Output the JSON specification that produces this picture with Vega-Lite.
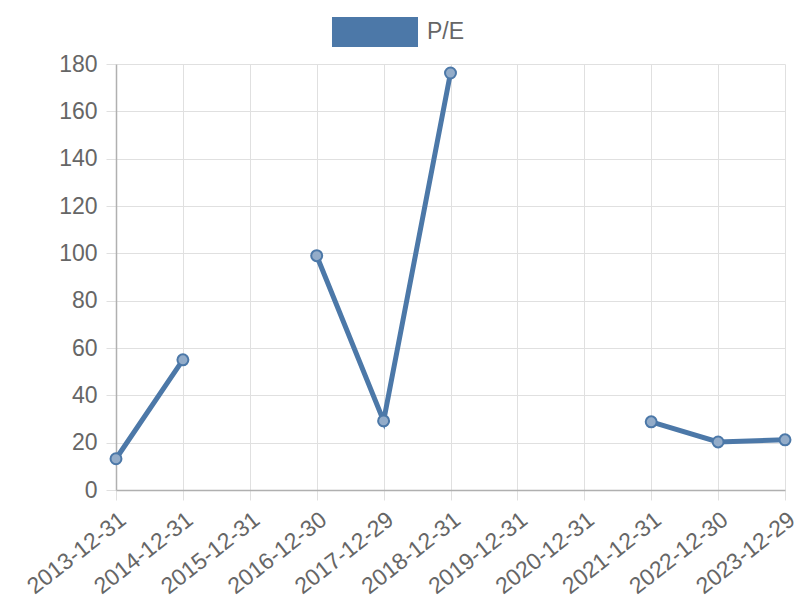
{
  "$schema": "https://vega.github.io/schema/vega-lite/v6.json",
  "width": 669,
  "height": 426,
  "autosize": {"type": "none"},
  "padding": {"left": 116, "top": 64, "right": 15, "bottom": 110},
  "background": "white",
  "config": {
    "view": {"stroke": null},
    "font": "Liberation Sans"
  },
  "data": {
    "values": [
      {"date": "2013-12-31", "pe": 13.2},
      {"date": "2014-12-31", "pe": 55},
      {"date": "2015-12-31", "pe": null},
      {"date": "2016-12-30", "pe": 99},
      {"date": "2017-12-29", "pe": 29.2},
      {"date": "2018-12-31", "pe": 176.2},
      {"date": "2019-12-31", "pe": null},
      {"date": "2020-12-31", "pe": null},
      {"date": "2021-12-31", "pe": 28.8},
      {"date": "2022-12-30", "pe": 20.3},
      {"date": "2023-12-29", "pe": 21.2}
    ]
  },
  "encoding": {
    "x": {
      "field": "date",
      "type": "ordinal",
      "sort": null,
      "scale": {
        "type": "point",
        "padding": 0,
        "domain": ["2013-12-31","2014-12-31","2015-12-31","2016-12-30","2017-12-29","2018-12-31","2019-12-31","2020-12-31","2021-12-31","2022-12-30","2023-12-29"]
      },
      "axis": {
        "title": null,
        "labelAngle": -38,
        "labelAlign": "right",
        "labelBaseline": "top",
        "labelFontSize": 23,
        "labelColor": "#666666",
        "labelPadding": 8,
        "labelOverlap": false,
        "tickSize": 10,
        "tickColor": "#e0e0e0",
        "grid": true,
        "gridColor": "#e0e0e0",
        "domainColor": "#b0b0b0",
        "domainWidth": 1.5
      }
    },
    "y": {
      "field": "pe",
      "type": "quantitative",
      "scale": {"domain": [0, 180], "nice": false},
      "axis": {
        "title": null,
        "values": [0, 20, 40, 60, 80, 100, 120, 140, 160, 180],
        "labelFontSize": 23,
        "labelColor": "#666666",
        "labelPadding": 9,
        "tickSize": 10,
        "tickColor": "#e0e0e0",
        "gridColor": "#e0e0e0",
        "domainColor": "#b0b0b0",
        "domainWidth": 1.5
      }
    }
  },
  "layer": [
    {
      "mark": {"type": "line", "strokeWidth": 5, "invalid": "break-paths-show-domains"},
      "encoding": {
        "color": {
          "datum": "P/E",
          "type": "nominal",
          "scale": {"range": ["#4c78a8"]},
          "legend": {
            "title": null,
            "orient": "none",
            "legendX": 244,
            "legendY": -47,
            "symbolSize": 900,
            "labelFontSize": 23,
            "labelColor": "#666666",
            "labelOffset": 37,
            "encode": {
              "symbols": {
                "update": {
                  "shape": {"value": "M-2.867,-1H2.867V1H-2.867Z"},
                  "size": {"value": 900},
                  "fill": {"value": "#4c78a8"},
                  "stroke": {"value": "#4c78a8"},
                  "strokeWidth": {"value": 0},
                  "opacity": {"value": 1}
                }
              }
            }
          }
        }
      }
    },
    {
      "mark": {"type": "point", "shape": "circle", "filled": true, "size": 120, "fill": "#93acc9", "stroke": "#4c78a8", "strokeWidth": 2, "opacity": 1}
    }
  ]
}
